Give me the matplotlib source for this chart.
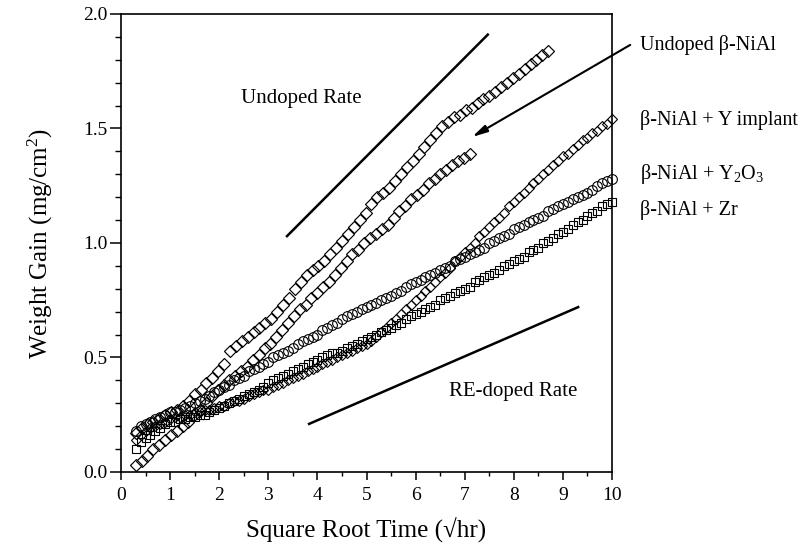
import numpy as np
import matplotlib
matplotlib.use("Agg")
import matplotlib.pyplot as plt
from matplotlib.ticker import MultipleLocator, FormatStrFormatter

plt.rcParams['font.family'] = 'Liberation Serif'
plt.rcParams['mathtext.fontset'] = 'custom'
plt.rcParams['mathtext.rm'] = 'Liberation Serif'
plt.rcParams['mathtext.it'] = 'Liberation Serif:italic'

# Undoped beta-NiAl, first run (upper diamonds), sampled evenly from x=0.3 to 8.7
undoped_a_x = (0.3, 8.7)
undoped_a = [0.17, 0.19, 0.21, 0.22, 0.23, 0.25, 0.26, 0.27, 0.29, 0.31,
             0.34, 0.36, 0.39, 0.41, 0.44, 0.47, 0.53, 0.55, 0.57, 0.59,
             0.61, 0.63, 0.65, 0.67, 0.70, 0.73, 0.76, 0.80, 0.83, 0.86,
             0.88, 0.90, 0.92, 0.95, 0.98, 1.01, 1.04, 1.07, 1.10, 1.13,
             1.17, 1.20, 1.22, 1.24, 1.27, 1.30, 1.33, 1.36, 1.39, 1.42,
             1.45, 1.48, 1.51, 1.53, 1.55, 1.56, 1.58, 1.59, 1.61, 1.63,
             1.64, 1.66, 1.68, 1.70, 1.72, 1.74, 1.76, 1.78, 1.80, 1.82,
             1.84]

# Undoped beta-NiAl, second run (lower diamonds), x=0.3 to 7.1
undoped_b_x = (0.3, 7.1)
undoped_b = [0.03, 0.05, 0.07, 0.10, 0.12, 0.14, 0.16, 0.18, 0.20, 0.22,
             0.25, 0.27, 0.30, 0.33, 0.36, 0.38, 0.40, 0.42, 0.44, 0.46,
             0.49, 0.51, 0.54, 0.56, 0.59, 0.62, 0.65, 0.68, 0.71, 0.73,
             0.76, 0.78, 0.81, 0.83, 0.86, 0.89, 0.92, 0.95, 0.97, 1.00,
             1.02, 1.04, 1.06, 1.08, 1.11, 1.14, 1.16, 1.19, 1.21, 1.23,
             1.26, 1.28, 1.30, 1.32, 1.34, 1.36, 1.37, 1.39]

# doped alloys, x=0.3 to 10
doped_x = (0.3, 10.0)
y_implant = [0.14, 0.16, 0.18, 0.19, 0.20, 0.21, 0.22, 0.23, 0.24, 0.24,
             0.25, 0.25, 0.26, 0.26, 0.27, 0.27, 0.28, 0.29, 0.29, 0.30,
             0.31, 0.31, 0.32, 0.33, 0.34, 0.35, 0.36, 0.36, 0.37, 0.38,
             0.39, 0.40, 0.41, 0.42, 0.43, 0.44, 0.45, 0.46, 0.47, 0.48,
             0.49, 0.50, 0.51, 0.52, 0.53, 0.54, 0.55, 0.56, 0.57, 0.59,
             0.61, 0.63, 0.65, 0.67, 0.69, 0.71, 0.73, 0.75, 0.77, 0.79,
             0.81, 0.83, 0.85, 0.87, 0.89, 0.92, 0.94, 0.96, 0.98, 1.00,
             1.03, 1.05, 1.07, 1.09, 1.11, 1.13, 1.16, 1.18, 1.20, 1.22,
             1.24, 1.26, 1.28, 1.30, 1.32, 1.34, 1.36, 1.38, 1.39, 1.41,
             1.43, 1.45, 1.46, 1.48, 1.49, 1.51, 1.52, 1.54]

y2o3 = [0.18, 0.20, 0.21, 0.22, 0.23, 0.24, 0.25, 0.26, 0.26, 0.27,
        0.28, 0.29, 0.30, 0.31, 0.32, 0.33, 0.35, 0.36, 0.37, 0.38,
        0.40, 0.41, 0.42, 0.44, 0.45, 0.46, 0.47, 0.48, 0.50, 0.51,
        0.52, 0.53, 0.54, 0.56, 0.57, 0.58, 0.59, 0.60, 0.62, 0.63,
        0.64, 0.65, 0.67, 0.68, 0.69, 0.70, 0.71, 0.72, 0.73, 0.74,
        0.75, 0.76, 0.77, 0.78, 0.79, 0.81, 0.82, 0.83, 0.84, 0.85,
        0.86, 0.87, 0.88, 0.89, 0.90, 0.92, 0.93, 0.94, 0.95, 0.96,
        0.97, 0.98, 1.00, 1.01, 1.02, 1.03, 1.04, 1.06, 1.07, 1.08,
        1.09, 1.10, 1.11, 1.12, 1.14, 1.15, 1.16, 1.17, 1.18, 1.19,
        1.20, 1.21, 1.22, 1.23, 1.25, 1.26, 1.27, 1.28]

zr = [0.10, 0.13, 0.15, 0.16, 0.18, 0.19, 0.21, 0.22, 0.22, 0.23,
      0.23, 0.24, 0.24, 0.25, 0.25, 0.26, 0.27, 0.28, 0.29, 0.30,
      0.31, 0.32, 0.33, 0.34, 0.35, 0.36, 0.37, 0.39, 0.40, 0.41,
      0.42, 0.43, 0.44, 0.45, 0.46, 0.47, 0.48, 0.49, 0.50, 0.51,
      0.52, 0.52, 0.53, 0.54, 0.55, 0.56, 0.57, 0.58, 0.59, 0.60,
      0.61, 0.62, 0.63, 0.64, 0.65, 0.67, 0.68, 0.69, 0.70, 0.71,
      0.72, 0.73, 0.75, 0.76, 0.77, 0.78, 0.79, 0.80, 0.81, 0.83,
      0.84, 0.85, 0.86, 0.87, 0.88, 0.90, 0.91, 0.92, 0.93, 0.94,
      0.96, 0.97, 0.98, 1.00, 1.01, 1.02, 1.04, 1.05, 1.06, 1.08,
      1.09, 1.10, 1.12, 1.13, 1.14, 1.16, 1.17, 1.18]

# reference rate lines (endpoints)
undoped_rate = ([3.38, 7.47], [1.03, 1.91])
redoped_rate = ([3.83, 9.31], [0.21, 0.72])

labels = ["Undoped \u03b2-NiAl", "\u03b2-NiAl + Y implant",
          "\u03b2-NiAl + Y$_2$O$_3$", "\u03b2-NiAl + Zr"]
label_y = [1.865, 1.537, 1.30, 1.145]

fig = plt.figure(figsize=(8.01, 5.51), dpi=100)
ax = fig.add_axes([0.1511, 0.1434, 0.6130, 0.8312])

def series(xr, y):
    return np.linspace(xr[0], xr[1], len(y)), np.array(y)

mk = dict(linestyle='none', markerfacecolor='none', markeredgecolor='black',
          clip_on=False)

ax.plot(*series(doped_x, zr), marker='s', markersize=6.2, markeredgewidth=0.8, **mk)
ax.plot(*series(doped_x, y2o3), marker='o', markersize=7, markeredgewidth=0.8, **mk)
ax.plot(*series(doped_x, y_implant), marker='D', markersize=5.5, markeredgewidth=0.8, **mk)
ax.plot(*series(undoped_b_x, undoped_b), marker='D', markersize=5.8, markeredgewidth=0.85, **mk)
ax.plot(*series(undoped_a_x, undoped_a), marker='D', markersize=5.8, markeredgewidth=0.85, **mk)

ax.plot(*undoped_rate, color='black', linewidth=1.8)
ax.plot(*redoped_rate, color='black', linewidth=1.8)

ax.text(3.67, 1.633, "Undoped Rate", fontsize=15, ha='center', va='center')
ax.text(7.98, 0.351, "RE-doped Rate", fontsize=15, ha='center', va='center')

for lab, ly in zip(labels, label_y):
    ax.text(10.57, ly, lab, fontsize=14.5, ha='left', va='center', clip_on=False)

ax.annotate("", xy=(7.15, 1.463), xytext=(10.37, 1.865),
            arrowprops=dict(arrowstyle='-|>,head_length=0.9,head_width=0.22',
                            color='black', linewidth=1.5, shrinkA=0, shrinkB=0),
            annotation_clip=False)

ax.set_xlim(0, 10)
ax.set_ylim(0, 2)
ax.xaxis.set_major_locator(MultipleLocator(1))
ax.xaxis.set_minor_locator(MultipleLocator(0.5))
ax.yaxis.set_major_locator(MultipleLocator(0.5))
ax.yaxis.set_minor_locator(MultipleLocator(0.1))
ax.yaxis.set_major_formatter(FormatStrFormatter('%.1f'))

ax.tick_params(which='major', direction='out', width=1.1, labelsize=14)
ax.tick_params(axis='x', which='major', length=6, pad=5)
ax.tick_params(axis='x', which='minor', direction='out', length=3, width=1)
ax.tick_params(axis='y', which='major', length=8, pad=2)
ax.tick_params(axis='y', which='minor', direction='out', length=4, width=1)
for s in ax.spines.values():
    s.set_linewidth(1.2)

ax.set_xlabel("Square Root Time (\u221ahr)", fontsize=18, labelpad=10)
ax.set_ylabel("Weight Gain (mg/cm$^2$)", fontsize=18, labelpad=20)

fig.savefig("out.png", dpi=100)
